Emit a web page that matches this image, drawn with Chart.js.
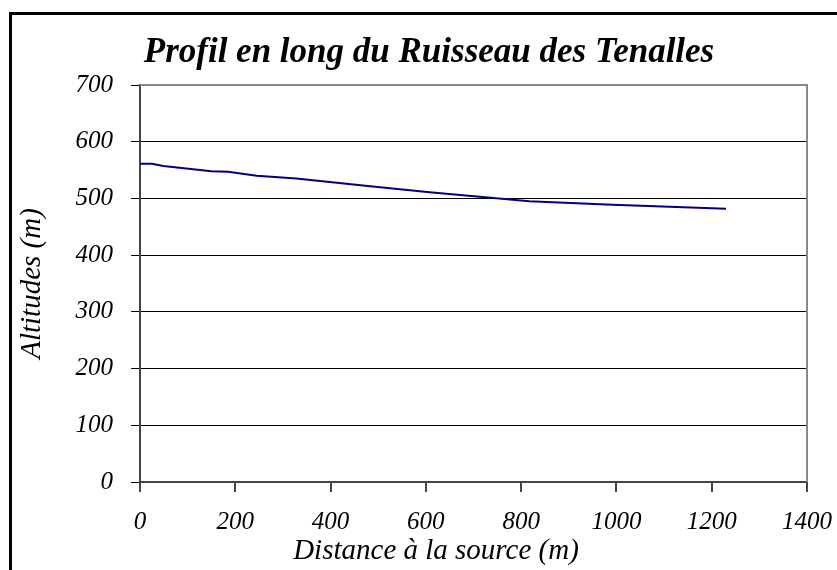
<!DOCTYPE html>
<html><head><meta charset="utf-8">
<script src="https://cdn.jsdelivr.net/npm/chart.js@4/dist/chart.umd.min.js"></script>
<style>
html,body{margin:0;padding:0;background:#fff;overflow:hidden;}
#wrap{position:relative;width:837px;height:570px;}
#frame{position:absolute;left:9px;top:12px;width:900px;height:700px;border:3px solid #000;box-sizing:border-box;pointer-events:none;}
canvas{position:absolute;left:0;top:0;}
</style></head>
<body>
<div id="wrap"><canvas id="c" width="837" height="570"></canvas><div id="frame"></div></div>
<script>
const titleText = "Profil en long du Ruisseau des Tenalles";
const xTitle = "Distance à la source (m)";
const yTitle = "Altitudes (m)";
const distances = [0, 25, 49, 150, 185, 245, 328, 468, 608, 713, 817, 992, 1230];
const altitudes = [561, 561, 557, 548, 547, 540, 535, 523, 511, 503, 495, 489, 482];
const xTicks = [0, 200, 400, 600, 800, 1000, 1200, 1400];
const yTicks = [0, 100, 200, 300, 400, 500, 600, 700];

const serif = "'Liberation Serif', 'Times New Roman', serif";
const points = distances.map((d, i) => ({x: d, y: altitudes[i]}));

const framePlugin = {
  id: 'frame',
  afterDatasetsDraw(chart) {
    const {ctx, chartArea: a} = chart;
    ctx.save();
    ctx.strokeStyle = '#888';
    ctx.lineWidth = 2;
    ctx.beginPath();
    ctx.moveTo(a.left, a.top); ctx.lineTo(a.right, a.top); ctx.lineTo(a.right, a.bottom);
    ctx.stroke();
    ctx.restore();
  },
  afterDraw(chart) {
    const ctx = chart.ctx;
    ctx.save();
    ctx.fillStyle = '#000';
    ctx.textAlign = 'center';
    ctx.textBaseline = 'middle';
    ctx.font = "italic bold 35px " + serif;
    ctx.fillText(titleText, 429, 53);
    ctx.font = "italic 29px " + serif;
    ctx.fillText(xTitle, 436, 551);
    ctx.restore();
  }
};

new Chart(document.getElementById('c'), {
  type: 'scatter',
  data: { datasets: [{
    data: points, showLine: true, borderColor: '#000080', borderWidth: 2,
    pointRadius: 0, tension: 0, fill: false
  }]},
  options: {
    responsive: false, animation: false, devicePixelRatio: 1,
    layout: { padding: { left: 0, right: 30, top: 85, bottom: 0 } },
    plugins: {
      legend: { display: false }, tooltip: { enabled: false }, title: { display: false }
    },
    scales: {
      x: {
        type: 'linear', min: 0, max: 1400,
        afterBuildTicks(s) { s.ticks = xTicks.map(v => ({value: v})); },
        afterFit(s) { s.height = 88; s.paddingLeft = 0; s.paddingRight = 0; },
        grid: { drawOnChartArea: false, drawTicks: true, tickLength: 10, color: '#444', lineWidth: 2 },
        border: { color: '#444', width: 2 },
        ticks: { color: '#000', padding: 15, maxRotation: 0, callback: v => String(v),
          font: { family: serif, size: 25, style: 'italic' } },
        title: { display: false }
      },
      y: {
        type: 'linear', min: 0, max: 700,
        afterBuildTicks(s) { s.ticks = yTicks.map(v => ({value: v})); },
        afterFit(s) { s.width = 140; s.paddingTop = 0; s.paddingBottom = 0; },
        grid: { drawOnChartArea: true, drawTicks: true, tickLength: 9, color: '#000', lineWidth: 1 },
        border: { color: '#444', width: 2 },
        ticks: { color: '#000', padding: 18, callback: v => String(v),
          font: { family: serif, size: 25, style: 'italic' } },
        title: { display: true, text: yTitle, color: '#000', padding: { top: 15, bottom: 0 },
          font: { family: serif, size: 29, style: 'italic' } }
      }
    }
  },
  plugins: [framePlugin]
});
</script>
</body></html>
